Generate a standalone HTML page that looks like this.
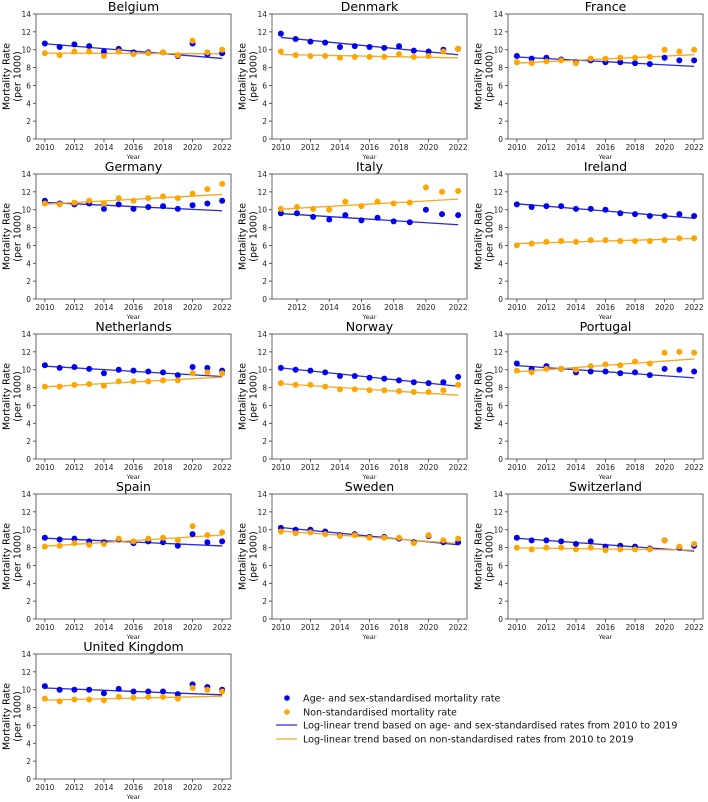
<!DOCTYPE html>
<html><head><meta charset="utf-8"><style>
html,body{margin:0;padding:0;background:#fff;}
svg{display:block;font-family:"DejaVu Sans","Liberation Sans",sans-serif;}
</style></head><body>
<svg id="chart" width="708" height="802" viewBox="0 0 708 802"></svg>
<script>
const countries = ["Belgium","Denmark","France","Germany","Italy","Ireland","Netherlands","Norway","Portugal","Spain","Sweden","Switzerland","United Kingdom"];
const startYears = [2010,2010,2010,2010,2011,2010,2010,2010,2010,2010,2010,2010,2010];
const stdRates = [
 [10.7,10.3,10.6,10.4,9.8,10.1,9.7,9.7,9.7,9.3,10.7,9.5,9.6],
 [11.8,11.2,10.9,10.8,10.3,10.4,10.3,10.2,10.4,9.9,9.8,10.0,10.1],
 [9.3,9.0,9.1,8.9,8.6,8.8,8.6,8.6,8.5,8.4,9.1,8.8,8.8],
 [11.0,10.7,10.6,10.7,10.1,10.6,10.1,10.3,10.4,10.1,10.5,10.7,11.0],
 [9.6,9.6,9.2,8.9,9.4,8.8,9.1,8.7,8.6,10.0,9.5,9.4],
 [10.6,10.3,10.4,10.4,10.1,10.1,10.0,9.6,9.5,9.3,9.3,9.5,9.3],
 [10.5,10.2,10.3,10.1,9.6,10.0,9.9,9.8,9.7,9.4,10.3,10.2,9.9],
 [10.2,10.0,9.9,9.7,9.3,9.3,9.1,9.0,8.8,8.6,8.5,8.6,9.2],
 [10.7,10.1,10.4,10.1,9.7,9.8,9.8,9.6,9.7,9.4,10.1,10.0,9.8],
 [9.1,8.9,9.0,8.7,8.6,8.9,8.5,8.7,8.6,8.2,9.5,8.6,8.7],
 [10.2,10.0,10.0,9.8,9.4,9.5,9.2,9.2,9.0,8.6,9.3,8.6,8.6],
 [9.1,8.8,8.8,8.7,8.4,8.7,8.1,8.2,8.1,7.9,8.8,8.0,8.2],
 [10.4,10.0,10.0,10.0,9.6,10.1,9.8,9.8,9.8,9.5,10.6,10.3,10.0]
];
const crudeRates = [
 [9.6,9.4,9.8,9.8,9.3,9.8,9.5,9.6,9.7,9.4,11.0,9.7,10.0],
 [9.8,9.4,9.3,9.3,9.1,9.2,9.2,9.2,9.5,9.2,9.3,9.8,10.1],
 [8.6,8.5,8.7,8.8,8.5,9.0,9.0,9.1,9.1,9.2,10.0,9.8,10.0],
 [10.7,10.6,10.8,11.0,10.7,11.3,11.0,11.3,11.5,11.3,11.8,12.3,12.9],
 [10.1,10.3,10.1,10.0,10.9,10.4,10.9,10.7,10.8,12.5,12.0,12.1],
 [6.0,6.2,6.4,6.5,6.4,6.6,6.6,6.5,6.5,6.5,6.6,6.8,6.8],
 [8.1,8.1,8.3,8.4,8.2,8.7,8.7,8.7,8.8,8.8,9.6,9.7,9.6],
 [8.5,8.3,8.3,8.1,7.8,7.8,7.7,7.7,7.6,7.5,7.5,7.7,8.3],
 [9.9,9.7,10.1,10.1,10.0,10.4,10.6,10.5,10.9,10.7,11.9,12.0,11.9],
 [8.1,8.2,8.5,8.3,8.4,9.0,8.7,9.0,9.1,8.8,10.4,9.4,9.7],
 [9.8,9.6,9.7,9.5,9.3,9.4,9.1,9.1,9.1,8.5,9.4,8.8,9.0],
 [8.0,7.8,8.0,8.0,7.8,8.0,7.7,7.8,7.8,7.8,8.8,8.1,8.4],
 [9.0,8.7,8.9,8.9,8.8,9.2,9.1,9.2,9.2,9.0,10.2,10.0,9.8]
];
const yTicks = [0,2,4,6,8,10,12,14];
const xTicks = [2010,2012,2014,2016,2018,2020,2022];
const legendLabels = ["Age- and sex-standardised mortality rate","Non-standardised mortality rate","Log-linear trend based on age- and sex-standardised rates from 2010 to 2019","Log-linear trend based on non-standardised rates from 2010 to 2019"];

const NS="http://www.w3.org/2000/svg";
const svg=document.getElementById('chart');
function mk(tag,attrs,parent,text){const e=document.createElementNS(NS,tag);for(const k in attrs)e.setAttribute(k,attrs[k]);if(text!==undefined)e.textContent=text;(parent||svg).appendChild(e);return e;}
const colLeft=[36,272,508], W=195, H=125;
const BLUE="#0000ee", ORANGE="#ffa500", BLUEL="#2a2ad8", ORANGEL="#f5a623";
function fit(years,vals){ // log-linear over years<=2019
  let xs=[],ys=[];years.forEach((y,i)=>{if(y<=2019){xs.push(y);ys.push(Math.log(vals[i]));}});
  const n=xs.length,mx=xs.reduce((a,b)=>a+b)/n,my=ys.reduce((a,b)=>a+b)/n;
  let sxy=0,sxx=0;for(let i=0;i<n;i++){sxy+=(xs[i]-mx)*(ys[i]-my);sxx+=(xs[i]-mx)**2;}
  const b=sxy/sxx;return y=>Math.exp(my+b*(y-mx));
}
countries.forEach((c,ci)=>{
  const col=ci%3,row=Math.floor(ci/3);
  const L=colLeft[col],T=14+row*160;
  const y0=startYears[ci], y1=2022, span=y1-y0, xmin=y0-span*0.05, xmax=y1+span*0.05;
  const X=v=>L+(v-xmin)/(xmax-xmin)*W;
  const Y=v=>T+H-(v/14)*H;
  const g=mk('g',{},svg);
  
  
  const t=mk('text',{x:L+W/2,y:T-3,'text-anchor':'middle','font-size':'12.5',fill:'#000'},g,c);
  
  
  const yl=mk('text',{transform:`translate(${L-23},${T+H/2}) rotate(-90)`,'text-anchor':'middle','font-size':'9.5',fill:'#000'},g);
  
  
  mk('tspan',{x:0,dy:'-0.35em'},yl,'Mortality Rate');
  mk('tspan',{x:0,dy:'1.15em'},yl,'(per 1000)');
  yTicks.forEach(v=>{
    mk('line',{x1:L-3,x2:L,y1:Y(v),y2:Y(v),stroke:'#333','stroke-width':0.8},g);
    const tl=mk('text',{x:L-5,y:Y(v)+3,'text-anchor':'end','font-size':'7.5',fill:'#222'},g,String(v));
    
    
  });
  xTicks.forEach(v=>{
    if(v<xmin)return;
    mk('line',{x1:X(v),x2:X(v),y1:T+H,y2:T+H+3,stroke:'#333','stroke-width':0.8},g);
    const tl=mk('text',{x:X(v),y:T+H+11,'text-anchor':'middle','font-size':'7.5',fill:'#222'},g,String(v));
    
    
  });
  const xl=mk('text',{x:L+W/2,y:T+H+20,'text-anchor':'middle','font-size':'6.5',fill:'#222'},g,'Year');
  
  
  const years=stdRates[ci].map((_,i)=>y0+i);
  [[stdRates[ci],BLUE,BLUEL],[crudeRates[ci],ORANGE,ORANGEL]].forEach(([vals,mc,lc],si)=>{
    const f=fit(years,vals);
    const ln=mk('line',{x1:X(y0),y1:Y(f(y0)),x2:X(2022),y2:Y(f(2022)),stroke:lc,'stroke-width':1.3},g);
    
    
  });
  [[stdRates[ci],BLUE],[crudeRates[ci],ORANGE]].forEach(([vals,mc],si)=>{
    vals.forEach((v,i)=>{
      const p=mk('circle',{cx:X(years[i]),cy:Y(v),r:3,fill:mc},g);
      
      
    });
  });
  mk('rect',{x:L,y:T,width:W,height:H,fill:'none',stroke:'#555','stroke-width':0.9},g);
});
// legend
const lg=mk('g',{},svg);


const ly=[698,712,725,739];
legendLabels.forEach((lab,i)=>{
  if(i<2){mk('circle',{cx:287,cy:ly[i],r:2.8,fill:i?ORANGE:BLUE},lg);}
  else{mk('line',{x1:276,x2:297,y1:ly[i],y2:ly[i],stroke:i==2?BLUEL:ORANGEL,'stroke-width':1.3},lg);}
  const tx=mk('text',{x:303,y:ly[i]+3.5,'font-size':'9.6',fill:'#111'},lg,lab);
  
  
});
</script>
</body></html>
